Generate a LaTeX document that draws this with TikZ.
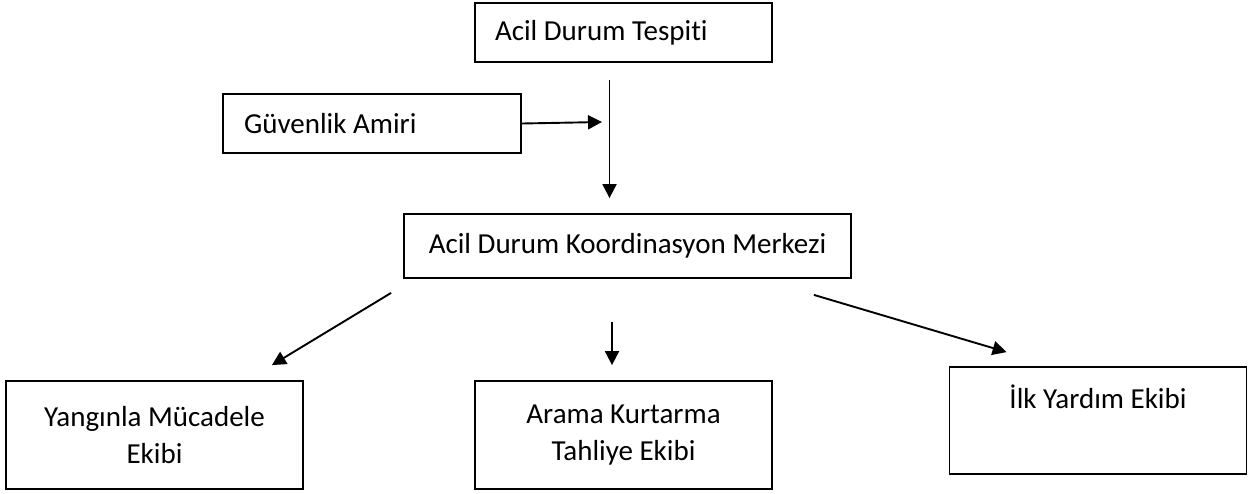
\documentclass[tikz,border=0pt]{standalone}
\usepackage{fontspec}
\setmainfont{Carlito}[Ligatures=NoCommon]
\usetikzlibrary{arrows.meta,calc}
\begin{document}
\begin{tikzpicture}[x=1pt,y=-1pt,
  box/.style={draw=black,line width=1.8pt,inner ysep=0pt,font=\fontsize{29pt}{37pt}\selectfont},
  leftbox/.style={box,align=flush left,inner xsep=20pt,text width=257pt,minimum height=59pt},
  twobox/.style={box,align=flush center,inner xsep=10pt,text width=277pt,minimum height=108pt},
  arr/.style={line width=1.9pt,-{Triangle[length=14pt,width=14pt]}}]
\useasboundingbox (0,0) rectangle (1249,493);
\node[leftbox] (t) at (623.5,32.5) {Acil Durum Tespiti};
\node[leftbox,inner xsep=21pt,text width=256pt,minimum height=58.5pt] (g) at (372,123.5) {Güvenlik Amiri};
\node[box,minimum width=447pt,minimum height=64pt] (k) at (627.5,246) {Acil Durum Koordinasyon Merkezi};
\node[twobox] (y) at (154.5,435) {Yangınla Mücadele\\Ekibi};
\node[twobox] (a) at (623.5,435) {Arama Kurtarma\\Tahliye Ekibi};
\node[twobox,minimum height=107pt] (i) at (1098,420.5) {İlk Yardım Ekibi\\\strut};
\coordinate (m) at (602,122);
\draw[arr] ($(t.south)+(-14,17)$) -- ($(k.north)+(-18,-15)$);
\draw[arr] (g.east) -- (m);
\draw[arr] ($(k.south west)+(-12,14)$) -- ($(y.north east)+(-32,-15)$);
\draw[arr] ($(k.south)+(-15.5,43)$) -- ($(a.north)+(-11.5,-15)$);
\draw[arr] ($(k.south east)+(-38,16)$) -- ($(i.north west)+(58,-14)$);
\end{tikzpicture}
\end{document}
